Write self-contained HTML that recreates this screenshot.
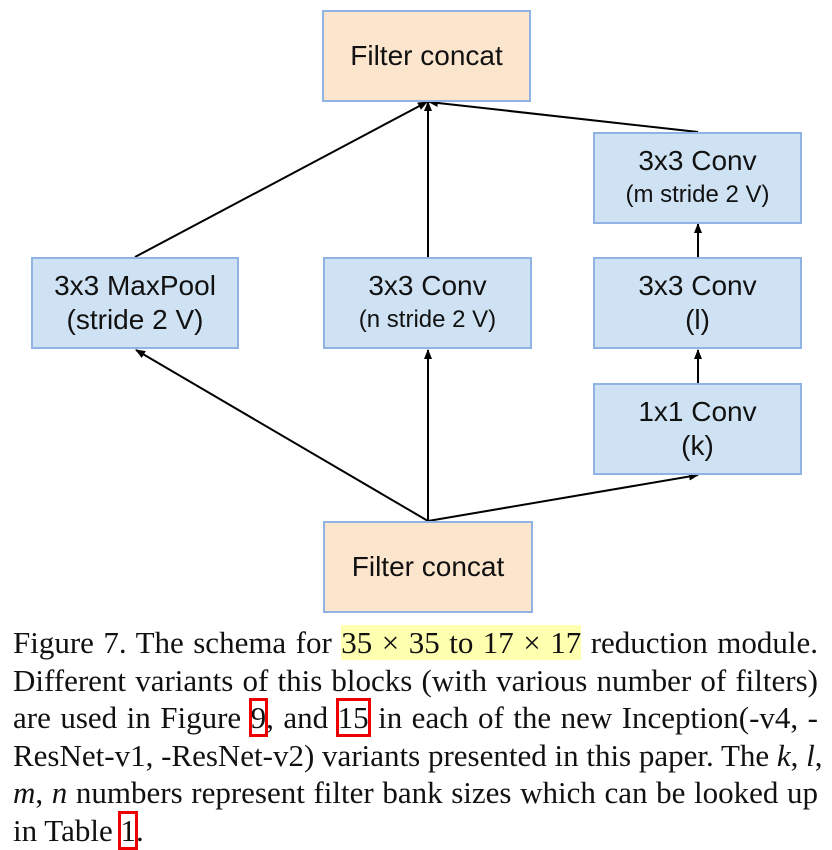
<!DOCTYPE html>
<html><head><meta charset="utf-8"><style>
body{margin:0;width:832px;height:850px;background:#fff;position:relative;overflow:hidden}
.b{position:absolute;box-sizing:border-box;border:2px solid #8fb4e3;background:#cfe2f3;display:flex;flex-direction:column;align-items:center;justify-content:center;font-family:"Liberation Sans",sans-serif;color:#111;font-size:28px;line-height:34px;text-align:center}
.o{background:#fce5cd}
.s{font-size:24px}
.cap{position:absolute;left:13px;width:805px;font-family:"Liberation Serif",serif;font-size:31px;line-height:38px;color:#111;text-align:justify;text-align-last:justify;white-space:nowrap}
.r{outline:3px solid #e00;outline-offset:-1px}
.hl{background:#ffffb0}
svg{position:absolute;left:0;top:0}
</style></head><body>
<svg width="832" height="620">
<defs><marker id="a" markerWidth="10" markerHeight="8" refX="9" refY="4" orient="auto" markerUnits="userSpaceOnUse"><path d="M0,0 L10,4 L0,8 z" fill="#000"/></marker></defs>
<g stroke="#000" stroke-width="2" fill="none" marker-end="url(#a)">
<line x1="428" y1="521" x2="136" y2="350"/>
<line x1="428" y1="521" x2="428" y2="350"/>
<line x1="428" y1="521" x2="698" y2="475"/>
<line x1="698" y1="383" x2="698" y2="350"/>
<line x1="698" y1="257" x2="698" y2="224"/>
<line x1="135" y1="257" x2="427" y2="102"/>
<line x1="428" y1="257" x2="428" y2="102"/>
<line x1="698" y1="132" x2="429" y2="102"/>
</g></svg>
<div class="b o" style="left:322px;top:10px;width:209px;height:92px">Filter concat</div>
<div class="b" style="left:593px;top:132px;width:209px;height:92px"><div>3x3 Conv</div><div class="s">(m stride 2 V)</div></div>
<div class="b" style="left:31px;top:257px;width:208px;height:92px"><div>3x3 MaxPool</div><div>(stride 2 V)</div></div>
<div class="b" style="left:323px;top:257px;width:209px;height:92px"><div>3x3 Conv</div><div class="s">(n stride 2 V)</div></div>
<div class="b" style="left:593px;top:257px;width:209px;height:92px"><div>3x3 Conv</div><div>(l)</div></div>
<div class="b" style="left:593px;top:383px;width:209px;height:92px"><div>1x1 Conv</div><div>(k)</div></div>
<div class="b o" style="left:323px;top:521px;width:210px;height:92px">Filter concat</div>
<div class="cap" style="top:624px">Figure 7. The schema for <span class="hl">35 × 35 to 17 × 17</span> reduction module.</div>
<div class="cap" style="top:662px">Different variants of this blocks (with various number of filters)</div>
<div class="cap" style="top:699px">are used in Figure <span class="r">9</span>, and <span class="r">15</span> in each of the new Inception(-v4, -</div>
<div class="cap" style="top:737px">ResNet-v1, -ResNet-v2) variants presented in this paper. The <i>k</i>, <i>l</i>,</div>
<div class="cap" style="top:774px"><i>m</i>, <i>n</i> numbers represent filter bank sizes which can be looked up</div>
<div class="cap" style="top:812px;text-align-last:left">in Table <span class="r">1</span>.</div>
</body></html>
